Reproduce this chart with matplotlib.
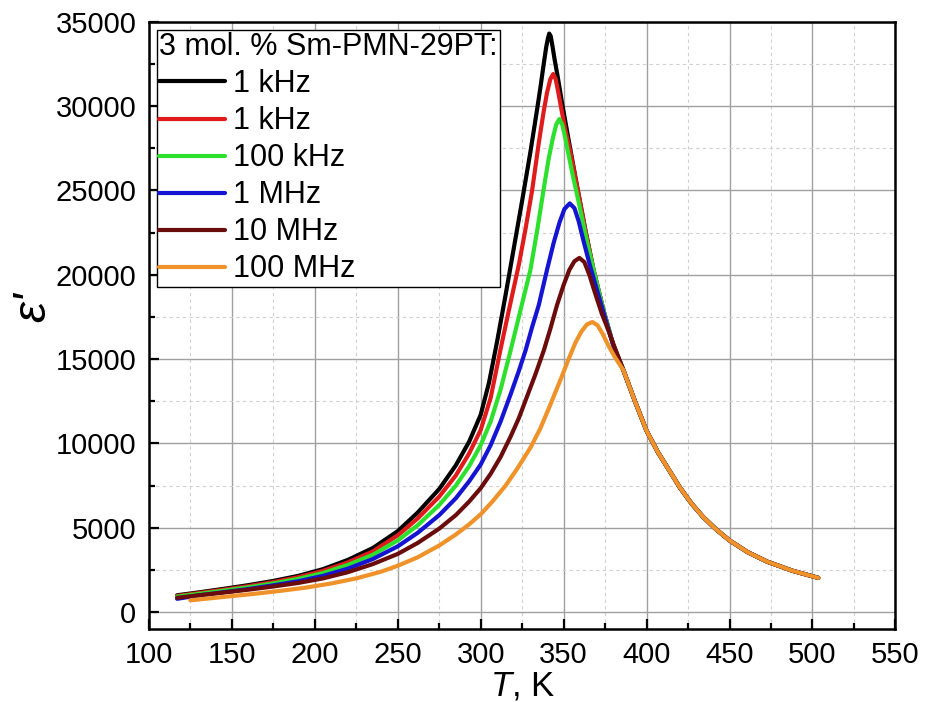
import matplotlib

matplotlib.use("Agg")
import matplotlib.pyplot as plt
from matplotlib.ticker import MultipleLocator

plt.rcParams["font.family"] = ["Liberation Sans", "DejaVu Sans"]
plt.rcParams["mathtext.fontset"] = "custom"
plt.rcParams["mathtext.it"] = "Liberation Sans:italic"
plt.rcParams["mathtext.rm"] = "Liberation Sans"

# permittivity vs temperature
# common high-temperature branch shared by all frequencies
tail_T = [386, 393, 400, 407, 414, 420, 427, 434, 442, 450, 461, 473, 488, 503.5]
tail_eps = [14350, 12500, 10750, 9450, 8350, 7400, 6450, 5650, 4900, 4250, 3550, 2980,
            2450, 2030]

black_T = [117, 130, 145, 160, 175, 190, 205, 220, 235, 250, 262, 275, 285, 293, 300,
           305, 310, 315, 320, 325, 330, 334, 336, 338, 339.5, 340.5, 341.3, 342.2,
           343.2, 344.5, 346.5, 349, 353, 358, 363, 368, 374, 380]
black_eps = [1000, 1170, 1380, 1600, 1850, 2150, 2550, 3100, 3800, 4800, 5900, 7300,
             8700, 10100, 11700, 13600, 16100, 18800, 21600, 24400, 27300, 29800, 31100,
             32500, 33500, 34000, 34300, 34150, 33600, 32800, 31700, 30200, 28000, 25300,
             22700, 20300, 17900, 15800]

red_T = [117, 130, 145, 160, 175, 190, 205, 220, 235, 250, 262, 275, 285, 293, 300, 306,
         312, 317, 323, 327, 331, 335, 338, 340, 342, 343.7, 345.2, 346.8, 348.5, 351,
         354, 358, 363, 368, 374, 380]
red_eps = [960, 1130, 1330, 1540, 1780, 2070, 2450, 2950, 3600, 4550, 5550, 6850, 8100,
           9400, 10800, 12700, 15600, 17900, 20600, 22700, 25000, 27800, 29700, 30800,
           31600, 31900, 31600, 30800, 29900, 28600, 27300, 25300, 22700, 20300, 17900,
           15800]

green_T = [117, 130, 145, 160, 175, 190, 205, 220, 235, 250, 262, 275, 285, 293, 300, 306,
           312, 318, 324, 330, 334, 338, 341, 343.5, 345.5, 347.4, 349.2, 351, 353, 355.5,
           358, 361, 364, 368, 374, 380]
green_eps = [920, 1080, 1270, 1470, 1700, 1970, 2320, 2800, 3400, 4250, 5150, 6350, 7500,
             8650, 9900, 11300, 13200, 15500, 17900, 20300, 22600, 25100, 26900, 28100,
             28900, 29230, 28900, 28100, 27100, 25900, 24800, 23400, 22000, 20300, 17900,
             15800]

blue_T = [117, 130, 145, 160, 175, 190, 205, 220, 235, 250, 262, 275, 285, 293, 300, 306,
          312, 318, 323, 327, 331, 335, 340, 344, 347.5, 350.5, 353.7, 356.5, 359, 362,
          366, 371, 376, 380]
blue_eps = [790, 990, 1180, 1370, 1590, 1830, 2150, 2580, 3150, 3900, 4700, 5750, 6750,
            7750, 8750, 9900, 11300, 12900, 14300, 15500, 16900, 18200, 20300, 21900,
            23100, 23900, 24230, 23950, 23200, 22000, 20500, 18800, 17100, 15800]

dred_T = [117, 130, 145, 160, 175, 190, 205, 220, 235, 250, 262, 275, 285, 293, 300, 306,
          312, 318, 323, 328, 333, 338, 342, 346, 350, 353.5, 356.5, 359.5, 362.5, 365.5,
          369, 373, 377, 381.5]
dred_eps = [850, 1000, 1160, 1330, 1520, 1730, 2000, 2370, 2850, 3450, 4100, 4950, 5750,
            6550, 7350, 8200, 9200, 10400, 11500, 12800, 14100, 15500, 16800, 18200,
            19400, 20300, 20800, 21000, 20750, 20000, 18900, 17700, 16700, 15500]

orange_T = [125, 135, 150, 165, 180, 195, 210, 225, 240, 250, 262, 275, 285, 293, 300,
            307, 315, 322, 330, 336, 342, 348.6, 353, 357, 360.5, 364, 367.3, 370.5,
            373.5, 377, 381]
orange_eps = [700, 800, 950, 1100, 1270, 1460, 1700, 2000, 2400, 2750, 3250, 3950, 4600,
              5200, 5800, 6550, 7500, 8500, 9750, 10900, 12300, 13900, 15000, 15950,
              16600, 17050, 17200, 17000, 16500, 15800, 15100]

labels = ["1 kHz", "1 kHz", "100 kHz", "1 MHz", "10 MHz", "100 MHz"]
colors = ["#000000", "#e01b1b", "#2de02d", "#1414d2", "#6a0c0c", "#f0922a"]
series = [(black_T, black_eps), (red_T, red_eps), (green_T, green_eps),
          (blue_T, blue_eps), (dred_T, dred_eps), (orange_T, orange_eps)]

fig = plt.figure(figsize=(9.25, 7.02), dpi=100)
ax = fig.add_axes([0.161, 0.104, 0.807, 0.865])

for (t, e), c, lab in zip(series, colors, labels):
    ax.plot(list(t) + tail_T, list(e) + tail_eps, color=c, lw=3.0, label=lab,
            solid_capstyle="round", solid_joinstyle="round")

ax.set_xlim(100, 550)
ax.set_ylim(-1000, 35000)
ax.xaxis.set_major_locator(MultipleLocator(50))
ax.xaxis.set_minor_locator(MultipleLocator(25))
ax.yaxis.set_major_locator(MultipleLocator(5000))
ax.yaxis.set_minor_locator(MultipleLocator(2500))

ax.grid(which="major", color="#a0a0a0", lw=1.0)
ax.grid(which="minor", color="#d0d0d0", lw=0.8, ls=(0, (3, 3)))
ax.set_axisbelow(True)

ax.tick_params(which="both", direction="in", labelsize=21, width=1.6)
ax.tick_params(which="major", length=7, pad=9)
ax.tick_params(which="minor", length=4)
for sp in ax.spines.values():
    sp.set_linewidth(1.8)

ax.set_xlabel(r"$T$, K", fontsize=25, labelpad=0)
ax.set_ylabel("ε'", fontsize=34, fontstyle="italic")
ax.yaxis.set_label_coords(-0.125, 0.53)

leg = ax.legend(title="3 mol. % Sm-PMN-29PT:", loc="upper left", bbox_to_anchor=(0, 1),
                fontsize=22, title_fontsize=22, frameon=True, fancybox=False,
                edgecolor="black", framealpha=1, borderaxespad=0.26, borderpad=0.08,
                handlelength=2.15, handletextpad=0.25, labelspacing=0.23)
leg._legend_box.align = "left"
leg.get_frame().set_linewidth(1.0)

fig.savefig("out.png", dpi=100)
